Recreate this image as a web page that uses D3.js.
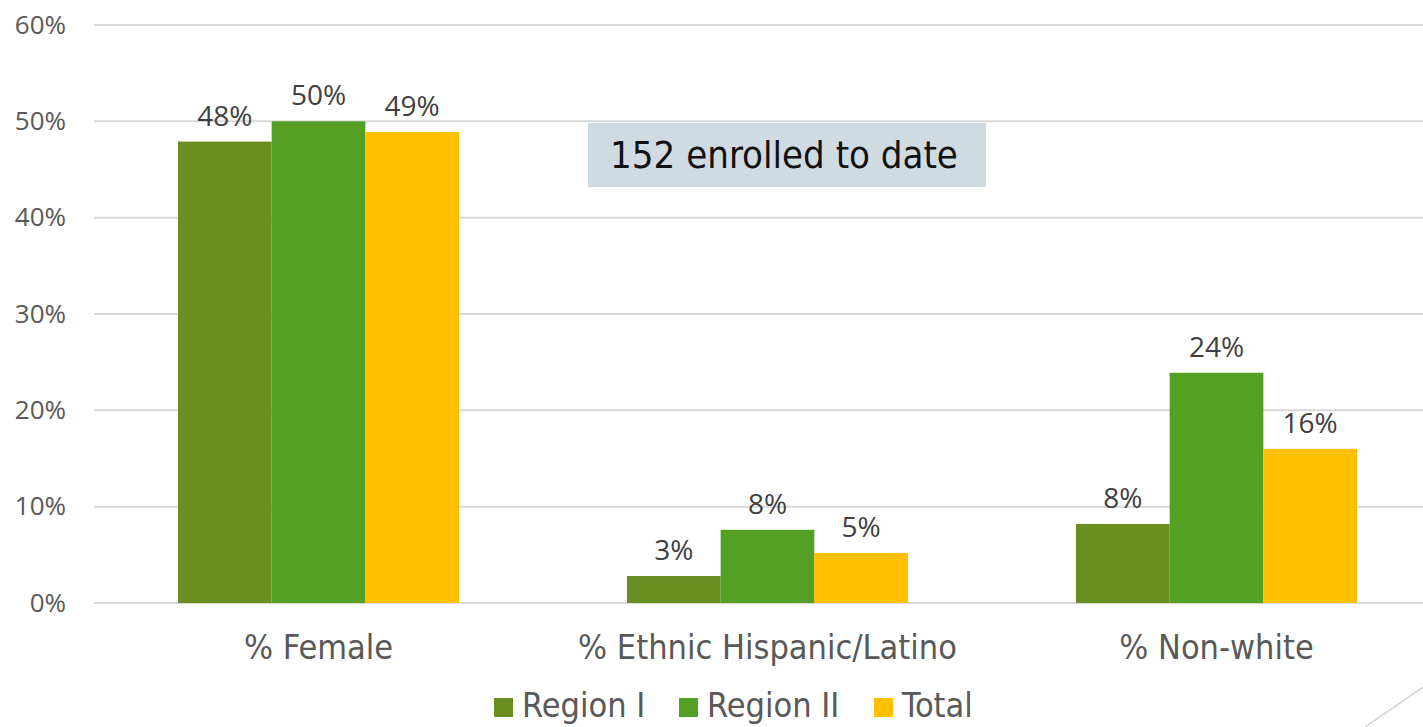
<!DOCTYPE html>
<html>
<head>
<meta charset="utf-8">
<script src="https://cdn.jsdelivr.net/npm/d3@7"></script>
<style>
  body { margin: 0; background: #fff; }
  svg { display: block; }
</style>
</head>
<body>
<svg id="chart" width="1423" height="727"></svg>
<script>
var categories = ["% Female", "% Ethnic Hispanic/Latino", "% Non-white"];
var seriesNames = ["Region I", "Region II", "Total"];
var regionI = [0.479, 0.028, 0.082];
var regionII = [0.50, 0.076, 0.239];
var total = [0.489, 0.052, 0.160];
var yTicks = [0, 0.1, 0.2, 0.3, 0.4, 0.5, 0.6];
var note = "152 enrolled to date";

var colors = ["#6B8E23", "#53A024", "#FFC000"];
var series = [regionI, regionII, total];

var width = 1423, height = 727;
var svg = d3.select("#chart");

var x0 = d3.scaleBand()
    .domain(categories)
    .range([94, 1441])
    .paddingInner(0.374)
    .paddingOuter(0.187);

var x1 = d3.scaleBand()
    .domain(seriesNames)
    .range([0, x0.bandwidth()]);

var y = d3.scaleLinear()
    .domain([0, 0.6])
    .range([603, 25]);

// gridlines
svg.append("g")
  .selectAll("line")
  .data(yTicks)
  .enter().append("line")
    .attr("x1", 94)
    .attr("x2", width)
    .attr("y1", function(d) { return y(d); })
    .attr("y2", function(d) { return y(d); })
    .attr("stroke", "#d9d9d9")
    .attr("stroke-width", 2);

// y axis labels
var yAxis = d3.axisLeft(y)
    .tickValues(yTicks)
    .tickFormat(d3.format(".0%"))
    .tickSize(0)
    .tickPadding(0);

var yg = svg.append("g")
    .attr("transform", "translate(66,0)")
    .call(yAxis);
yg.select(".domain").remove();
yg.selectAll("text")
    .attr("fill", "#595959")
    .style("font-family", "'Open Sans', sans-serif")
    .style("font-size", "26px");

// bars
var groups = svg.append("g")
  .selectAll("g")
  .data(categories)
  .enter().append("g")
    .attr("transform", function(d) { return "translate(" + x0(d) + ",0)"; });

groups.selectAll("rect")
    .data(function(d, i) { return series.map(function(s, j) { return { name: seriesNames[j], value: s[i], color: colors[j] }; }); })
  .enter().append("rect")
    .attr("x", function(d) { return x1(d.name); })
    .attr("y", function(d) { return y(d.value); })
    .attr("width", x1.bandwidth())
    .attr("height", function(d) { return y(0) - y(d.value); })
    .attr("fill", function(d) { return d.color; });

groups.selectAll("text")
    .data(function(d, i) { return series.map(function(s, j) { return { name: seriesNames[j], value: s[i] }; }); })
  .enter().append("text")
    .attr("x", function(d) { return x1(d.name) + x1.bandwidth() / 2; })
    .attr("y", function(d) { return y(d.value) - 16; })
    .attr("text-anchor", "middle")
    .attr("fill", "#404040")
    .style("font-family", "'Open Sans', sans-serif")
    .style("font-size", "28px")
    .text(function(d) { return d3.format(".0%")(d.value); });

// category labels
var xAxis = d3.axisBottom(x0).tickSize(0).tickPadding(0);
var xg = svg.append("g")
    .attr("transform", "translate(0,635)")
    .call(xAxis);
xg.select(".domain").remove();
xg.selectAll("text")
    .attr("fill", "#595959")
    .style("font-family", "'DejaVu Sans Condensed', sans-serif")
    .style("font-size", "34px");

// note box
var box = svg.append("g").attr("transform", "translate(588,123)");
box.append("rect")
    .attr("width", 398)
    .attr("height", 64)
    .attr("fill", "#cfdbe0");
box.append("text")
    .attr("x", 196)
    .attr("y", 45)
    .attr("text-anchor", "middle")
    .attr("fill", "#111")
    .style("font-family", "'DejaVu Sans Condensed', sans-serif")
    .style("font-size", "38px")
    .text(note);

// legend
var legendX = [494, 679, 874];
var legend = svg.append("g")
  .selectAll("g")
  .data(seriesNames)
  .enter().append("g")
    .attr("transform", function(d, i) { return "translate(" + legendX[i] + ",698)"; });
legend.append("rect")
    .attr("width", 19)
    .attr("height", 19)
    .attr("fill", function(d, i) { return colors[i]; });
legend.append("text")
    .attr("x", 28)
    .attr("y", 19)
    .attr("fill", "#595959")
    .style("font-family", "'DejaVu Sans Condensed', sans-serif")
    .style("font-size", "34px")
    .text(function(d) { return d; });

// slide decoration
svg.append("line")
    .attr("x1", 1365).attr("y1", 727)
    .attr("x2", 1423).attr("y2", 687)
    .attr("stroke", "#d0d0d0")
    .attr("stroke-width", 1.5);
</script>
</body>
</html>
